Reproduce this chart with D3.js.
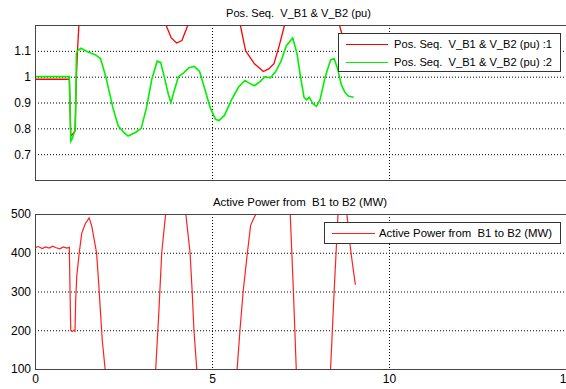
<!DOCTYPE html>
<html>
<head>
<meta charset="utf-8">
<script src="https://cdn.jsdelivr.net/npm/d3@7"></script>
<style>
  body { margin: 0; background: #fff; }
  svg { display: block; font-family: "Liberation Sans", Arial, sans-serif; }
  text { white-space: pre; }
  .axis text { font-size: 12px; fill: #000; }
  .axis path { display: none; }
  .axis line { stroke: #000; }
</style>
</head>
<body>
<svg width="566" height="389"></svg>
<script>
// time values (s) and series
var tGreen = [0, 0.97, 0.99, 1.01, 1.05, 1.1, 1.14, 1.17, 1.2, 1.3, 1.5, 1.7, 1.85, 2.0, 2.2, 2.35, 2.5, 2.63, 2.85, 3.0,
  3.15, 3.3, 3.45, 3.55, 3.65, 3.77, 3.84, 3.92, 4.05, 4.2, 4.35, 4.5, 4.65, 4.8, 4.95, 5.1, 5.2, 5.35, 5.55, 5.75,
  5.93, 6.05, 6.2, 6.35, 6.5, 6.65, 6.8, 6.95, 7.1, 7.28, 7.4, 7.5, 7.6, 7.67, 7.75, 7.85, 7.95, 8.05, 8.2, 8.35,
  8.45, 8.55, 8.65, 8.75, 8.85, 9.0];
var vGreen = [1.0, 1.0, 0.88, 0.75, 0.76, 0.78, 0.8, 1.09, 1.1, 1.11, 1.095, 1.085, 1.07, 1.0, 0.88, 0.81, 0.785, 0.77, 0.785, 0.8,
  0.88, 0.99, 1.06, 1.055, 1.0, 0.93, 0.9, 0.94, 1.0, 1.015, 1.035, 1.04, 1.02, 0.95, 0.88, 0.835, 0.83, 0.85, 0.91, 0.96,
  0.985, 0.975, 0.965, 0.98, 1.0, 0.995, 1.02, 1.06, 1.12, 1.15, 1.09, 1.0, 0.92, 0.91, 0.92, 0.895, 0.885, 0.91, 1.0, 1.065,
  1.07, 1.03, 0.97, 0.94, 0.925, 0.92];

var tRedV = [0, 0.97, 0.99, 1.01, 1.08, 1.13, 1.17, 1.2, 1.24, 1.35, 1.7, 2.2, 2.8, 3.3, 3.7, 3.85, 4.0, 4.15, 4.32, 4.7,
  5.2, 5.6, 5.8, 5.95, 6.0, 6.2, 6.45, 6.6, 6.75, 6.9, 7.05, 7.3, 7.8, 8.3, 8.6, 8.8, 9.0];
var vRedV = [0.99, 0.99, 0.88, 0.77, 0.78, 0.79, 1.0, 1.1, 1.2, 1.3, 1.45, 1.55, 1.45, 1.3, 1.2, 1.15, 1.13, 1.14, 1.2, 1.4,
  1.45, 1.3, 1.2, 1.1, 1.09, 1.05, 1.02, 1.03, 1.05, 1.12, 1.2, 1.4, 1.5, 1.35, 1.2, 1.1, 1.05];

var tPower = [0, 0.1, 0.2, 0.3, 0.4, 0.5, 0.6, 0.7, 0.8, 0.9, 0.97, 0.99, 1.01, 1.05, 1.1, 1.13, 1.15, 1.18, 1.25, 1.32,
  1.42, 1.53, 1.6, 1.68, 1.74, 1.8, 1.84, 1.9, 1.98, 2.2, 2.7, 3.2, 3.41, 3.5, 3.58, 3.69, 3.9, 4.1, 4.26, 4.38,
  4.44, 4.49, 4.57, 4.8, 5.2, 5.5, 5.71, 5.79, 5.88, 6.0, 6.09, 6.16, 6.24, 6.5, 6.8, 7.05, 7.21, 7.3, 7.38, 7.6,
  7.9, 8.2, 8.35, 8.45, 8.56, 8.68, 8.81, 8.9, 8.97, 9.05];
var vPower = [413, 416, 411, 415, 412, 417, 413, 410, 415, 412, 414, 300, 200, 197, 200, 198, 280, 340, 400, 450,
  475, 490, 470, 430, 399, 320, 261, 175, 100, -100, -250, -100, 100, 250, 400, 500, 650, 620, 500, 400,
  300, 200, 100, -150, -250, -100, 100, 200, 300, 400, 470, 485, 500, 650, 720, 650, 500, 300, 100, -200,
  -300, -100, 100, 300, 500, 560, 500, 420, 370, 317];

var xTicks = [0, 5, 10, 15];
var vTicks = [0.7, 0.8, 0.9, 1, 1.1];
var pTicks = [100, 200, 300, 400, 500];

var titleTop = "Pos. Seq.  V_B1 & V_B2 (pu)";
var titleBottom = "Active Power from  B1 to B2 (MW)";
var legendTop = ["Pos. Seq.  V_B1 & V_B2 (pu) :1", "Pos. Seq.  V_B1 & V_B2 (pu) :2"];
var legendBottom = ["Active Power from  B1 to B2 (MW)"];

var svg = d3.select("svg");
var left = 35, right = 566;

var x = d3.scaleLinear().domain([0, 15]).range([left, right]);

function panel(id, top, bottom, yDomain, yTickVals, title, titleStart, titleLen, fmt) {
  var y = d3.scaleLinear().domain(yDomain).range([bottom, top]);

  svg.append("clipPath").attr("id", id)
    .append("rect").attr("x", left).attr("y", top)
    .attr("width", right - left).attr("height", bottom - top);

  // dotted grid
  var grid = svg.append("g");
  grid.selectAll(".h").data(yTickVals).enter().append("line")
    .attr("x1", left).attr("x2", right)
    .attr("y1", function(d) { return y(d) + 0.5; }).attr("y2", function(d) { return y(d) + 0.5; })
    .attr("stroke", "#000").attr("stroke-dasharray", "1,2");
  grid.selectAll(".v").data([5, 10]).enter().append("line")
    .attr("x1", function(d) { return Math.round(x(d)) + 0.5; }).attr("x2", function(d) { return Math.round(x(d)) + 0.5; })
    .attr("y1", top).attr("y2", bottom)
    .attr("stroke", "#000").attr("stroke-dasharray", "1,2");

  svg.append("g").attr("class", "axis")
    .attr("transform", "translate(" + left + ",0)")
    .call(d3.axisLeft(y).tickValues(yTickVals).tickSize(0).tickPadding(4).tickFormat(fmt));

  svg.append("text").attr("x", titleStart).attr("y", top - 8)
    .attr("font-size", "11px").attr("textLength", titleLen).attr("lengthAdjust", "spacingAndGlyphs")
    .text(title);

  return y;
}

// top panel
var yV = panel("clipTop", 25, 180, [0.6, 1.2], vTicks, titleTop, 226, 145, d3.format(""));
var lineV = d3.line().x(function(d) { return x(d[0]); }).y(function(d) { return yV(d[1]); });
var gTop = svg.append("g").attr("clip-path", "url(#clipTop)");
gTop.append("path").datum(d3.zip(tRedV, vRedV)).attr("d", lineV)
  .attr("fill", "none").attr("stroke", "#ff0000").attr("stroke-width", 1.3);
gTop.append("path").datum(d3.zip(tGreen, vGreen)).attr("d", lineV)
  .attr("fill", "none").attr("stroke", "#00f000").attr("stroke-width", 1.6);
svg.append("rect").attr("x", left + 0.5).attr("y", 25.5).attr("width", right - left).attr("height", 155)
  .attr("fill", "none").attr("stroke", "#444");

// bottom panel
var yP = panel("clipBot", 214, 369, [100, 500], pTicks, titleBottom, 213, 174, d3.format("d"));
var lineP = d3.line().x(function(d) { return x(d[0]); }).y(function(d) { return yP(d[1]); });
svg.append("g").attr("clip-path", "url(#clipBot)")
  .append("path").datum(d3.zip(tPower, vPower)).attr("d", lineP)
  .attr("fill", "none").attr("stroke", "#ff2020").attr("stroke-width", 1.2);
svg.append("rect").attr("x", left + 0.5).attr("y", 214.5).attr("width", right - left).attr("height", 155)
  .attr("fill", "none").attr("stroke", "#444");

svg.append("g").attr("class", "axis")
  .attr("transform", "translate(0,369)")
  .call(d3.axisBottom(x).tickValues(xTicks).tickSize(0).tickPadding(5));

// legends
function legend(lx, ly, w, h, labels, colors, lineX1, lineX2, textX, textLen, rowY) {
  var g = svg.append("g");
  g.append("rect").attr("x", lx + 0.5).attr("y", ly + 0.5).attr("width", w).attr("height", h)
    .attr("fill", "#fff").attr("stroke", "#333");
  labels.forEach(function(lab, i) {
    g.append("line").attr("x1", lineX1).attr("x2", lineX2)
      .attr("y1", rowY[i] + 0.5).attr("y2", rowY[i] + 0.5).attr("stroke", colors[i]);
    g.append("text").attr("x", textX).attr("y", rowY[i] + 4)
      .attr("font-size", "11.5px").attr("textLength", textLen).attr("lengthAdjust", "spacingAndGlyphs")
      .text(lab);
  });
}
legend(338, 33, 222, 38, legendTop, ["#ff0000", "#00f000"], 346, 388, 394, 158, [44, 62]);
legend(324, 222, 236, 21, legendBottom, ["#ff2020"], 332, 375, 379, 173, [233]);
</script>
</body>
</html>
